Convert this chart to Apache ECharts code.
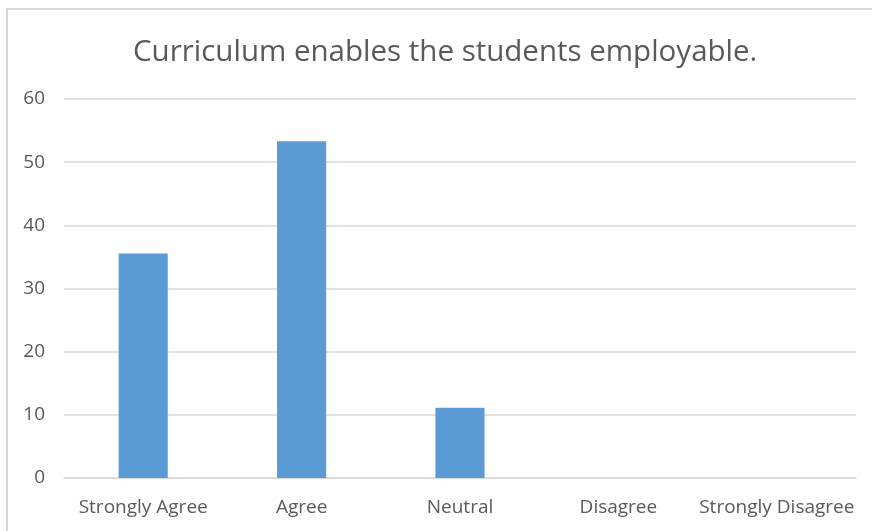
<!DOCTYPE html>
<html><head><meta charset="utf-8">
<script src="https://cdn.jsdelivr.net/npm/echarts@6/dist/echarts.min.js"></script>
<style>
html,body{margin:0;padding:0;background:#fff;}
#frame{position:absolute;left:6px;top:8px;width:880px;height:540px;border-left:2px solid #D9D9D9;border-top:2px solid #D9D9D9;}
#chart{position:absolute;left:0;top:0;width:872px;height:531px;}
</style></head>
<body>
<div id="frame"></div>
<div id="chart"></div>
<script>
const chartTitle = 'Curriculum enables the students employable.';
const categories = ['Strongly Agree', 'Agree', 'Neutral', 'Disagree', 'Strongly Disagree'];
const values = [35.56, 53.33, 11.11, 0, 0];
const yTicks = {min: 0, max: 60, interval: 10};

const chart = echarts.init(document.getElementById('chart'), null, {renderer: 'canvas'});
chart.setOption({
  animation: false,
  backgroundColor: 'transparent',
  title: {
    text: chartTitle, left: 128, top: 33,
    textStyle: {fontFamily: 'Open Sans', fontSize: 29.5, fontWeight: 'normal', color: '#595959'}
  },
  grid: {left: 64, right: 16, top: 99, bottom: 53, containLabel: false},
  xAxis: {
    type: 'category', data: categories,
    axisLine: {lineStyle: {color: '#D9D9D9', width: 1.5}},
    axisTick: {show: false},
    axisLabel: {color: '#595959', fontFamily: 'Open Sans', fontSize: 19, margin: 20, interval: 0}
  },
  yAxis: {
    type: 'value', min: yTicks.min, max: yTicks.max, interval: yTicks.interval,
    axisLine: {show: false}, axisTick: {show: false},
    axisLabel: {color: '#595959', fontFamily: 'Open Sans', fontSize: 19, margin: 19},
    splitLine: {lineStyle: {color: '#D9D9D9', width: 1.5}}
  },
  series: [{
    type: 'bar', data: values, barWidth: '31%',
    itemStyle: {color: '#5B9BD5'}
  }]
});
</script>
</body></html>
